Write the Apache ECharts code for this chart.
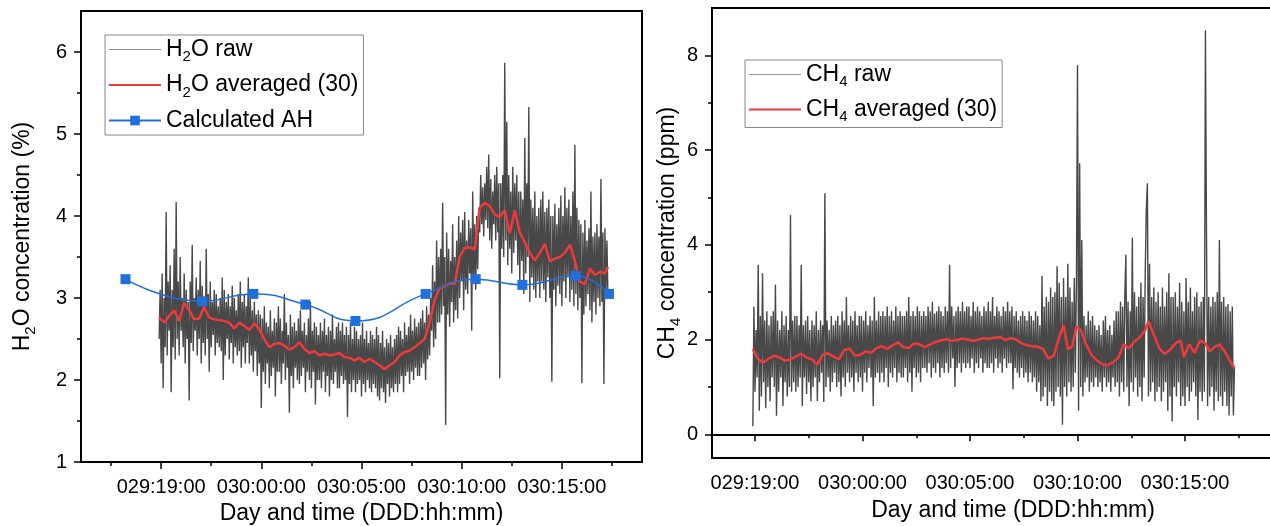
<!DOCTYPE html>
<html>
<head>
<meta charset="utf-8">
<script src="https://cdn.jsdelivr.net/npm/echarts@6/dist/echarts.min.js"></script>
<style>
  html, body {margin: 0; background: #fff;}
  #main {width: 1270px; height: 526px;}
</style>
</head>
<body>
<div id="main"></div>
<script>
// time is in hours from 029:00:00, raw samples every 0.05 h from 029:18:54
const rawStart = 18.9
const rawStep = 0.05

const h2oRaw = [
  2.5, 3.1, 2.2, 3.3, 1.9, 3.0, 2.4, 4.05, 2.3, 3.2, 2.6, 3.4, 1.85, 3.1, 2.4, 3.6, 2.25, 4.17, 2.5, 3.2,
  2.3, 3.5, 2.6, 3.0, 2.4, 3.3, 2.2, 3.1, 2.5, 2.95, 1.75, 3.2, 2.45, 3.65, 2.35, 3.0, 2.6, 3.25, 2.3, 3.1,
  2.5, 3.45, 2.2, 3.15, 2.45, 3.0, 2.3, 3.6, 2.5, 3.05, 2.1, 3.2, 2.4, 2.95, 2.55, 3.1, 2.3, 3.05, 2.45, 2.9,
  2.4, 3.0, 2.35, 3.25, 2.0, 3.1, 2.3, 2.95, 2.5, 3.05, 2.25, 2.9, 2.45, 3.15, 2.2, 3.0, 2.4, 2.85, 2.3, 3.05,
  2.35, 3.2, 2.15, 2.95, 2.4, 3.05, 2.2, 2.9, 2.45, 3.25, 2.2, 3.0, 2.3, 2.85, 2.1, 2.95, 2.35, 2.8, 2.05, 2.85,
  2.2, 2.8, 1.66, 2.75, 2.1, 2.9, 1.95, 2.7, 2.2, 2.65, 1.9, 2.85, 2.05, 2.6, 2.15, 2.75, 1.8, 2.7, 2.1, 2.9,
  2.1, 2.75, 1.95, 2.6, 2.2, 3.05, 2.0, 2.7, 2.15, 2.55, 1.6, 2.8, 2.05, 2.65, 1.9, 2.7, 2.15, 2.6, 2.0, 2.75,
  1.95, 2.85, 2.05, 2.6, 2.15, 2.7, 1.85, 2.55, 2.1, 2.75, 2.0, 2.95, 1.9, 2.6, 2.1, 2.7, 1.7, 2.65, 2.0, 2.55,
  2.0, 2.7, 1.9, 2.6, 2.1, 2.75, 1.85, 2.55, 2.05, 2.65, 1.8, 2.6, 2.0, 2.8, 1.95, 2.5, 2.1, 2.65, 1.9, 2.7,
  1.9, 2.6, 2.05, 2.7, 1.95, 2.55, 2.0, 2.65, 1.55, 2.55, 1.95, 2.7, 1.85, 2.5, 2.0, 2.65, 1.85, 2.6, 1.95, 2.5,
  2.0, 2.55, 1.8, 2.7, 1.95, 2.5, 1.85, 2.6, 2.0, 2.45, 1.9, 2.6, 1.85, 2.55, 1.95, 2.5, 1.9, 2.65, 1.8, 2.55,
  1.75, 2.45, 1.9, 2.6, 1.85, 2.4, 1.72, 2.5, 1.95, 2.45, 1.8, 2.55, 1.9, 2.4, 1.85, 2.5, 1.95, 2.55, 1.85, 2.65,
  1.95, 2.6, 2.05, 2.5, 1.85, 2.7, 2.05, 2.55, 2.1, 2.65, 1.95, 2.8, 2.1, 2.6, 2.0, 2.75, 2.15, 2.65, 2.05, 2.7,
  2.05, 2.75, 2.15, 2.85, 2.2, 2.7, 2.0, 2.9, 2.25, 2.8, 2.3, 3.0, 2.6, 3.4, 2.4, 3.2, 2.5, 3.7, 2.7, 3.5,
  2.7, 3.6, 2.8, 4.16, 2.9, 3.5, 1.45, 3.8, 2.8, 3.6, 2.65, 3.45, 2.95, 3.9, 2.7, 3.5, 2.85, 3.7, 2.75, 4.0,
  3.0, 3.8, 3.2, 3.95, 2.85, 4.05, 3.1, 3.7, 3.05, 3.95, 3.3, 3.85, 2.6, 4.3, 3.2, 3.9, 3.1, 4.0, 3.35, 4.1,
  3.8, 4.5, 3.9, 4.35, 3.75, 4.4, 3.95, 4.6, 3.85, 4.75, 3.7, 4.45, 3.6, 4.3, 3.9, 4.5, 3.7, 4.6, 3.8, 4.4,
  2.02, 4.4, 3.6, 4.5, 3.5, 5.87, 3.7, 5.15, 3.4, 4.5, 3.6, 4.3, 3.3, 4.6, 3.55, 4.4, 3.7, 4.5, 3.4, 4.3,
  3.2, 4.3, 3.45, 4.2, 3.05, 4.95, 3.3, 4.4, 3.5, 5.33, 2.95, 4.2, 3.25, 4.1, 3.1, 4.3, 3.0, 4.0, 3.2, 4.1,
  3.0, 4.2, 3.2, 4.3, 3.1, 4.05, 2.95, 4.1, 3.25, 4.2, 3.0, 4.0, 1.98, 4.0, 3.1, 4.15, 2.9, 3.9, 3.15, 4.1,
  3.05, 4.25, 2.9, 4.0, 3.2, 4.35, 3.0, 4.1, 3.25, 4.2, 2.95, 4.0, 3.1, 4.3, 2.9, 4.87, 3.05, 4.1, 2.85, 3.95,
  3.0, 3.9, 1.96, 3.8, 2.8, 3.95, 2.9, 3.7, 3.05, 3.85, 2.85, 4.3, 2.7, 3.75, 2.95, 3.8, 2.8, 3.9, 3.0, 3.75,
  2.9, 4.45, 2.95, 3.8, 1.95, 3.85, 3.05, 3.7, 3.0
]

const h2oAvg = [
  [18.9,2.76],[19.15,2.70],[19.4,2.78],[19.65,2.85],[19.9,2.72],[20.15,2.94],[20.4,2.85],[20.65,2.74],
  [20.9,2.75],[21.15,2.89],[21.4,2.76],[21.65,2.74],[21.9,2.73],[22.15,2.72],[22.4,2.70],[22.65,2.63],
  [22.9,2.70],[23.15,2.66],[23.4,2.61],[23.65,2.69],[23.9,2.62],[24.15,2.50],[24.4,2.40],[24.65,2.44],
  [24.9,2.45],[25.15,2.42],[25.4,2.37],[25.65,2.40],[25.9,2.46],[26.15,2.38],[26.4,2.33],[26.65,2.35],
  [26.9,2.30],[27.15,2.32],[27.4,2.30],[27.65,2.31],[27.9,2.33],[28.15,2.28],[28.4,2.27],[28.65,2.24],
  [28.9,2.27],[29.15,2.22],[29.4,2.26],[29.65,2.22],[29.9,2.18],[30.15,2.13],[30.4,2.18],[30.65,2.22],
  [30.9,2.30],[31.15,2.34],[31.4,2.36],[31.65,2.40],[31.9,2.45],[32.15,2.50],[32.4,2.70],[32.65,2.98],
  [32.9,3.12],[33.15,3.14],[33.4,3.18],[33.65,3.17],[33.9,3.50],[34.15,3.61],[34.4,3.62],[34.65,3.59],
  [34.9,4.10],[35.15,4.16],[35.4,4.12],[35.65,4.02],[35.9,3.99],[36.15,4.07],[36.4,3.79],[36.65,4.07],
  [36.9,3.80],[37.15,3.68],[37.4,3.55],[37.65,3.46],[37.9,3.55],[38.15,3.66],[38.4,3.45],[38.65,3.48],
  [38.9,3.50],[39.15,3.55],[39.4,3.65],[39.65,3.45],[39.9,3.20],[40.15,3.17],[40.4,3.36],[40.65,3.28],
  [40.9,3.32],[41.15,3.30],[41.3,3.38]
]

const ahTime = [17.22, 21.05, 23.6, 26.2, 28.7, 32.2, 34.7, 37.03, 39.7, 41.35]
const ahValue = [3.23, 2.96, 3.05, 2.92, 2.72, 3.05, 3.23, 3.16, 3.27, 3.05]

const ch4Raw = [
  0.17, 2.7, 0.9, 2.2, 1.2, 3.58, 0.5, 2.5, 0.8, 3.4, 1.1, 2.4, 0.55, 2.6, 1.0, 2.3, 0.7, 2.5, 1.2, 2.6,
  1.0, 3.16, 0.39, 2.4, 0.9, 2.2, 1.2, 2.6, 0.6, 2.3, 1.1, 2.5, 0.8, 2.2, 1.0, 4.63, 0.9, 2.4, 1.1, 2.5,
  0.9, 2.5, 1.0, 2.3, 1.2, 3.58, 0.6, 2.3, 1.2, 2.4, 0.85, 2.5, 1.1, 2.2, 0.7, 2.4, 1.0, 2.3, 1.2, 2.6,
  0.7, 2.2, 1.1, 2.4, 1.3, 2.3, 0.68, 5.09, 1.0, 2.4, 1.2, 2.2, 0.9, 2.5, 1.1, 2.3, 1.3, 2.4, 1.0, 2.5,
  1.1, 2.3, 0.8, 2.6, 1.2, 2.4, 1.0, 2.9, 1.3, 2.3, 1.1, 2.5, 1.2, 2.4, 0.9, 2.6, 1.3, 2.3, 1.1, 2.5,
  1.2, 2.5, 0.9, 2.4, 1.3, 2.6, 1.1, 2.3, 1.4, 2.5, 1.2, 2.4, 0.6, 2.9, 1.2, 2.4, 1.3, 2.6, 1.1, 2.5,
  1.3, 2.6, 1.1, 2.5, 1.4, 2.7, 1.0, 2.5, 1.3, 2.6, 1.2, 2.4, 1.4, 2.7, 1.1, 2.5, 1.3, 2.6, 1.2, 2.5,
  1.2, 2.5, 1.4, 2.6, 1.1, 2.9, 1.3, 2.5, 0.9, 2.6, 1.4, 2.5, 1.2, 2.7, 1.3, 2.6, 1.1, 2.5, 1.4, 2.6,
  1.4, 2.5, 1.3, 2.7, 1.5, 2.6, 1.2, 2.8, 1.4, 2.55, 1.3, 2.6, 1.5, 2.7, 1.2, 2.6, 1.4, 2.5, 1.3, 2.7,
  1.5, 2.6, 1.3, 3.58, 1.4, 2.7, 1.6, 2.5, 1.0, 2.6, 1.4, 2.7, 1.5, 2.6, 1.3, 2.8, 1.5, 2.6, 1.4, 2.7,
  1.5, 2.7, 1.4, 2.5, 1.6, 2.8, 1.3, 2.6, 1.5, 2.7, 1.4, 2.6, 1.6, 2.5, 1.3, 2.7, 1.5, 2.6, 1.4, 2.8,
  1.4, 2.6, 1.5, 2.9, 1.3, 2.5, 1.6, 2.7, 1.4, 2.6, 1.5, 2.5, 1.3, 2.7, 1.6, 2.6, 1.4, 2.8, 1.5, 2.6,
  1.5, 2.7, 0.95, 2.5, 1.4, 2.6, 1.3, 2.4, 1.2, 2.5, 1.4, 2.6, 1.2, 2.5, 1.3, 2.4, 1.1, 2.6, 1.3, 2.5,
  1.1, 2.4, 1.2, 2.6, 0.9, 2.5, 1.1, 2.3, 0.7, 3.35, 0.8, 2.7, 1.0, 2.9, 0.6, 2.8, 0.9, 3.1, 0.7, 2.9,
  0.6, 3.0, 0.9, 3.55, 1.0, 3.2, 0.8, 2.9, 0.2, 3.3, 1.0, 2.9, 0.8, 3.6, 1.1, 3.1, 0.9, 2.8, 1.0, 3.3,
  1.3, 3.2, 7.79, 0.5, 5.72, 1.0, 4.1, 0.8, 2.5, 1.1, 2.3, 1.2, 2.6, 0.9, 2.4, 1.1, 2.5, 1.0, 2.3, 1.2,
  2.2, 1.0, 2.3, 1.1, 2.1, 0.9, 2.4, 1.2, 2.5, 1.0, 2.2, 1.1, 2.3, 0.9, 2.1, 1.2, 2.4, 1.0, 2.6, 1.1,
  2.6, 0.8, 2.8, 1.1, 2.7, 0.9, 2.9, 3.79, 1.0, 2.8, 0.6, 2.6, 1.1, 4.15, 0.9, 3.0, 1.2, 2.7, 0.8, 2.9,
  1.0, 3.2, 0.7, 2.9, 1.2, 3.4, 4.74, 5.3, 0.8, 3.6, 0.9, 2.9, 1.1, 3.1, 0.7, 2.8, 0.9, 3.0, 1.0, 2.7,
  0.7, 3.1, 0.9, 2.7, 1.1, 3.0, 0.5, 3.4, 0.8, 2.9, 0.27, 2.9, 1.0, 3.0, 0.8, 2.7, 1.1, 3.2, 0.6, 2.8,
  0.8, 2.6, 0.6, 3.3, 1.0, 2.8, 0.7, 3.1, 0.9, 2.6, 1.1, 2.9, 0.8, 3.0, 0.3, 2.7, 0.9, 2.8, 0.7, 2.9,
  0.9, 8.53, 4.2, 0.6, 2.9, 0.8, 2.7, 1.0, 2.9, 0.5, 2.8, 0.9, 3.0, 0.7, 4.1, 0.8, 2.8, 0.6, 2.9, 0.9,
  2.7, 0.6, 2.75, 0.4, 2.6, 0.8, 2.7, 0.4, 1.4
]

const ch4Avg = [
  [18.9,1.80],[19.15,1.58],[19.4,1.52],[19.65,1.60],[19.9,1.66],[20.15,1.62],[20.4,1.55],[20.65,1.58],
  [20.9,1.64],[21.15,1.70],[21.4,1.62],[21.65,1.58],[21.9,1.47],[22.15,1.68],[22.4,1.71],[22.65,1.64],
  [22.9,1.58],[23.15,1.78],[23.4,1.81],[23.65,1.66],[23.9,1.68],[24.15,1.75],[24.4,1.72],[24.65,1.82],
  [24.9,1.86],[25.15,1.80],[25.4,1.88],[25.65,1.94],[25.9,1.84],[26.15,1.82],[26.4,1.92],[26.65,1.90],
  [26.9,1.84],[27.15,1.90],[27.4,1.95],[27.65,1.98],[27.9,2.01],[28.15,1.97],[28.4,1.99],[28.65,2.02],
  [28.9,2.00],[29.15,1.97],[29.4,2.00],[29.65,2.03],[29.9,2.02],[30.15,2.04],[30.4,2.05],[30.65,1.99],
  [30.9,2.03],[31.15,2.00],[31.4,1.92],[31.65,1.88],[31.9,1.86],[32.15,1.85],[32.4,1.80],[32.65,1.60],
  [32.9,1.66],[33.15,2.05],[33.35,2.31],[33.55,1.80],[33.75,1.85],[33.95,2.27],[34.15,2.20],[34.4,1.90],
  [34.65,1.68],[34.9,1.56],[35.15,1.48],[35.4,1.46],[35.65,1.52],[35.9,1.62],[36.15,1.90],[36.4,1.82],
  [36.65,1.96],[36.9,2.05],[37.15,2.20],[37.3,2.39],[37.55,2.10],[37.8,1.82],[38.05,1.70],[38.3,1.78],
  [38.55,1.92],[38.8,1.98],[38.95,1.64],[39.2,1.90],[39.45,1.72],[39.7,1.98],[39.95,1.92],[40.15,1.75],
  [40.4,1.85],[40.6,1.90],[40.85,1.75],[41.05,1.58],[41.3,1.40]
]

const xMajor = [19, 24, 29, 34, 39]
const xMinor = [16.5, 21.5, 26.5, 31.5, 36.5, 41.5, 44]
const h2oTicks = [1, 2, 3, 4, 5, 6]
const h2oMinor = [1.5, 2.5, 3.5, 4.5, 5.5]
const ch4Ticks = [0, 2, 4, 6, 8]
const ch4Minor = [1, 3, 5, 7]

const font = 'Liberation Sans, Arial, sans-serif'
const rich = {
  n: {fontSize: 23, lineHeight: 30, fontFamily: font, color: '#000', verticalAlign: 'middle'},
  s: {fontSize: 15, lineHeight: 15, fontFamily: font, color: '#000', verticalAlign: 'bottom'}
}
const legendText = {
  'H2O raw': '{n|H}{s|2}{n|O raw}',
  'H2O averaged (30)': '{n|H}{s|2}{n|O averaged (30)}',
  'Calculated AH': '{n|Calculated AH}',
  'CH4 raw': '{n|CH}{s|4}{n| raw}',
  'CH4 averaged (30)': '{n|CH}{s|4}{n| averaged (30)}'
}

const RED = '#ee3a3a'
const BLUE = '#1f6fdc'
const GRAY = '#484848'

function toPairs(arr){
  return arr.map((v, i) => [+(rawStart + i * rawStep).toFixed(2), v])
}

function fmtTime(v){
  let d = Math.floor(v / 24), h = Math.round(v - d * 24)
  return '0' + (29 + d) + ':' + String(h).padStart(2, '0') + ':00'
}

let tickLine = {color: '#000', width: 1.5}
let noMark = {color: 'rgba(0,0,0,0)', borderWidth: 0}

function xMain(grid, min, max, gap){
  return {
    type: 'value', gridIndex: grid, min: min, max: max, position: 'bottom',
    axisLine: {lineStyle: {color: '#000', width: 2}},
    axisTick: {customValues: xMajor, length: 7, lineStyle: tickLine},
    axisLabel: {customValues: xMajor, formatter: fmtTime, margin: 15, fontSize: 20, color: '#000', fontFamily: font},
    splitLine: {show: false},
    name: 'Day and time (DDD:hh:mm)', nameLocation: 'middle', nameGap: gap,
    nameTextStyle: {fontSize: 23, color: '#000', fontFamily: font}
  }
}
function xSub(grid, min, max){
  return {
    type: 'value', gridIndex: grid, min: min, max: max, position: 'bottom',
    axisLine: {show: false},
    axisTick: {customValues: xMinor, length: 4, lineStyle: tickLine},
    axisLabel: {show: false}, splitLine: {show: false}
  }
}
function yMain(grid, min, max, ticks, name, gap){
  return {
    type: 'value', gridIndex: grid, min: min, max: max, position: 'left',
    axisLine: {show: true, lineStyle: {color: '#000', width: 2}},
    axisTick: {show: true, customValues: ticks, length: 7, lineStyle: tickLine},
    axisLabel: {customValues: ticks, margin: 14, fontSize: 20, color: '#000', fontFamily: font},
    splitLine: {show: false},
    name: name, nameLocation: 'middle', nameGap: gap,
    nameTextStyle: {rich: rich}
  }
}
function ySub(grid, min, max, ticks){
  return {
    type: 'value', gridIndex: grid, min: min, max: max, position: 'left',
    axisLine: {show: false},
    axisTick: {show: true, customValues: ticks, length: 4, lineStyle: tickLine},
    axisLabel: {show: false}, splitLine: {show: false}
  }
}
function legendBox(items, left, top, gap){
  return {
    data: items, orient: 'vertical', left: left, top: top,
    padding: [3, 5, 3, 3], itemWidth: 52, itemHeight: 12, itemGap: gap,
    borderColor: '#888', borderWidth: 1, backgroundColor: '#fff',
    selectedMode: false,
    formatter: n => legendText[n],
    textStyle: {rich: rich}
  }
}

let chart = echarts.init(document.getElementById('main'))
chart.setOption({
  animation: false,
  backgroundColor: '#fff',
  grid: [
    {left: 81, top: 11, width: 561, height: 451, show: true, borderColor: '#000', borderWidth: 2, outerBoundsMode: 'none'},
    {left: 712, top: 8, width: 602, height: 450, show: true, borderColor: '#000', borderWidth: 2, outerBoundsMode: 'none'}
  ],
  xAxis: [xMain(0, 15, 43, 40), xSub(0, 15, 43), xMain(1, 17, 45, 41), xSub(1, 17, 45)],
  yAxis: [
    yMain(0, 1, 6.5, h2oTicks, '{n|H}{s|2}{n|O concentration (%)}', 43),
    ySub(0, 1, 6.5, h2oMinor),
    yMain(1, -0.5, 9, ch4Ticks, '{n|CH}{s|4}{n| concentration (ppm)}', 28),
    ySub(1, -0.5, 9, ch4Minor)
  ],
  legend: [
    legendBox([
      {name: 'H2O raw', itemStyle: noMark, lineStyle: {color: '#888', width: 1}},
      {name: 'H2O averaged (30)', itemStyle: noMark, lineStyle: {width: 2}},
      'Calculated AH'
    ], 105, 35, 9),
    legendBox([
      {name: 'CH4 raw', itemStyle: noMark, lineStyle: {color: '#999', width: 1}},
      {name: 'CH4 averaged (30)', itemStyle: noMark, lineStyle: {width: 2}}
    ], 745, 60, 8.5)
  ],
  series: [
    {type: 'line', name: 'H2O raw', xAxisIndex: 0, yAxisIndex: 0, data: toPairs(h2oRaw), symbol: 'none',
      lineStyle: {color: GRAY, width: 1.4}, itemStyle: {color: GRAY}},
    {type: 'line', name: 'H2O averaged (30)', xAxisIndex: 0, yAxisIndex: 0, data: h2oAvg, symbol: 'none',
      lineStyle: {color: RED, width: 2.5}, itemStyle: {color: RED}},
    {type: 'line', name: 'Calculated AH', xAxisIndex: 0, yAxisIndex: 0, smooth: true,
      data: ahTime.map((t, i) => [t, ahValue[i]]), symbol: 'rect', symbolSize: 10,
      lineStyle: {color: BLUE, width: 1.5}, itemStyle: {color: BLUE}},
    {type: 'line', name: 'CH4 raw', xAxisIndex: 2, yAxisIndex: 2, data: toPairs(ch4Raw), symbol: 'none',
      lineStyle: {color: GRAY, width: 1.4}, itemStyle: {color: GRAY}},
    {type: 'line', name: 'CH4 averaged (30)', xAxisIndex: 2, yAxisIndex: 2, data: ch4Avg, symbol: 'none',
      lineStyle: {color: RED, width: 2.5}, itemStyle: {color: RED}}
  ]
})
window.onresize = chart.resize
</script>
</body>
</html>
